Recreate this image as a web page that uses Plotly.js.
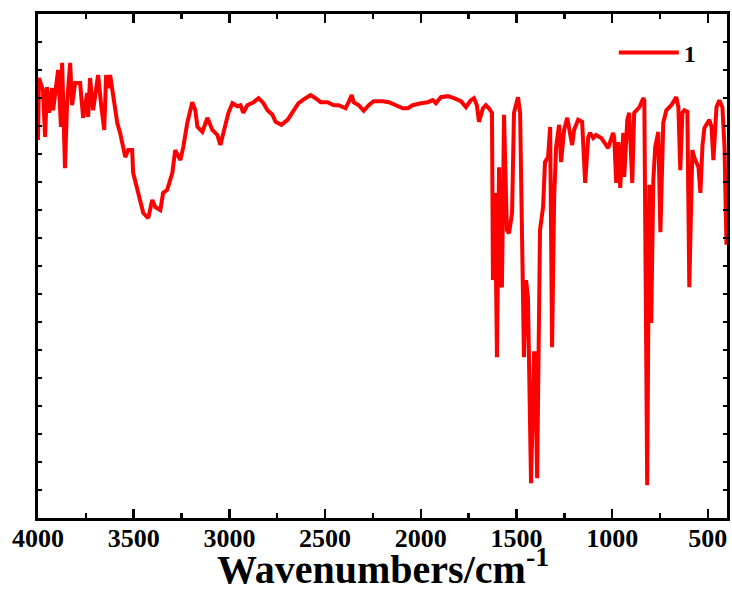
<!DOCTYPE html>
<html>
<head>
<meta charset="utf-8">
<script src="https://cdn.plot.ly/plotly-3.0.1.min.js"></script>
<style>html,body{margin:0;padding:0;background:#fff;}#chart{width:732px;height:591px;}</style>
</head>
<body>
<div id="chart"></div>
<script>
var wavenumber = [4000,3995,3974,3963,3953,3942,3927,3921,3906,3895,3880,3874,3859,3848,3832,3822,3806,3780,3764,3743,3738,3728,3712,3686,3670,3654,3644,3633,3623,3607,3586,3571,3544,3529,3508,3503,3476,3450,3424,3403,3387,3361,3346,3325,3298,3283,3256,3241,3220,3194,3178,3167,3141,3115,3089,3063,3047,3021,3005,2984,2958,2942,2927,2906,2874,2848,2822,2801,2775,2759,2728,2696,2670,2639,2602,2576,2550,2523,2487,2455,2429,2393,2377,2361,2351,2324,2298,2272,2246,2199,2167,2131,2094,2068,2042,2000,1963,1937,1921,1895,1858,1827,1790,1764,1738,1722,1707,1696,1675,1660,1644,1628,1623,1612,1602,1591,1586,1576,1565,1550,1539,1523,1513,1492,1481,1461,1450,1440,1424,1408,1403,1392,1377,1361,1351,1335,1324,1314,1303,1293,1277,1267,1251,1235,1225,1209,1199,1178,1157,1141,1125,1115,1099,1084,1057,1042,1021,995,989,979,968,958,942,937,921,911,895,885,858,837,832,817,806,796,785,775,759,748,733,717,691,665,654,644,633,623,607,597,581,570,549,539,528,518,502,492,481,471,455,440,424,413,403];
var transmittance = [75.0,87.3,84.9,75.6,85.5,80.4,85.3,80.9,85.5,88.9,77.6,90.3,69.4,82.3,90.3,81.9,86.3,86.3,79.4,84.3,79.6,87.3,80.9,87.9,81.9,77.0,87.9,85.3,87.9,83.5,78.4,76.4,71.6,73.0,73.0,68.5,64.5,60.5,59.5,63.1,61.7,61.1,64.5,65.1,68.5,73.0,71.0,73.6,78.4,82.5,80.9,77.6,76.6,79.4,77.0,76.0,74.0,78.4,80.4,82.3,81.7,81.9,80.4,81.9,82.5,83.3,82.3,80.9,80.0,78.6,78.0,79.0,80.4,82.3,83.3,83.9,83.3,82.5,82.5,81.9,81.9,81.3,82.5,83.9,82.5,81.9,80.8,81.9,82.7,82.7,82.5,81.9,81.3,81.3,81.9,82.3,82.5,82.9,82.3,83.5,83.7,83.3,82.7,81.5,82.9,83.3,81.9,78.6,81.3,81.9,81.3,80.4,47.2,64.5,31.9,69.6,47.2,45.8,80.0,57.1,56.5,60.5,80.4,83.5,80.4,31.9,47.2,43.8,6.9,32.7,32.7,7.9,57.1,61.7,70.6,71.6,77.6,33.9,63.7,73.6,78.0,70.6,77.0,79.4,77.4,74.0,77.0,79.0,78.6,66.5,75.6,76.4,75.4,76.0,75.4,74.6,73.4,76.4,75.4,66.5,74.6,65.5,76.4,67.7,79.0,80.4,66.5,80.4,81.5,83.3,82.9,6.5,66.1,38.7,67.1,73.6,76.6,56.7,78.4,80.9,81.9,83.5,81.5,69.0,80.4,80.9,80.6,45.8,73.0,71.4,69.6,64.5,74.0,77.4,78.6,79.0,77.6,71.0,81.5,82.9,81.5,73.6,54.2];
var seriesName = "1";
var xTitle = "Wavenumbers/cm<sup>-1</sup>";

var serif = "'Liberation Serif', 'Times New Roman', serif";
var trace = {
  x: wavenumber, y: transmittance, type: 'scatter', mode: 'lines', name: seriesName,
  line: {color: '#ff0000', width: 4}
};
var layout = {
  width: 732, height: 591,
  margin: {l: 38, r: 5, t: 14, b: 73},
  paper_bgcolor: '#fff', plot_bgcolor: '#fff',
  showlegend: true,
  legend: {x: 0.962, xanchor: 'right', y: 0.923, yanchor: 'middle', bgcolor: 'rgba(0,0,0,0)',
           font: {family: serif, size: 24, weight: 'bold', color: '#000'}, itemwidth: 60},
  xaxis: {
    range: [4000, 400], autorange: false, dtick: 500, tick0: 0,
    showgrid: false, zeroline: false,
    showline: true, linecolor: '#000', linewidth: 3, mirror: 'ticks',
    ticks: 'inside', ticklen: 9, tickwidth: 2.5, tickcolor: '#000',
    ticklabelstandoff: -5,
    minor: {dtick: 250, ticks: 'inside', ticklen: 5, tickwidth: 2.5, tickcolor: '#000', showgrid: false},
    tickfont: {family: serif, size: 26, weight: 'bold', color: '#000'}
  },
  yaxis: {
    range: [0, 100], autorange: false, dtick: 100/18, tick0: 0,
    showgrid: false, zeroline: false, showticklabels: false,
    showline: true, linecolor: '#000', linewidth: 3, mirror: 'ticks',
    ticks: 'inside', ticklen: 4, tickwidth: 2, tickcolor: '#000'
  },
  annotations: [{
    text: xTitle, xref: 'paper', yref: 'paper', x: 0.5, y: -0.097, xanchor: 'center', yanchor: 'middle',
    showarrow: false, font: {family: serif, size: 40, weight: 'bold', color: '#000'}
  }]
};
Plotly.newPlot('chart', [trace], layout, {displayModeBar: false, staticPlot: true});
</script>
</body>
</html>
